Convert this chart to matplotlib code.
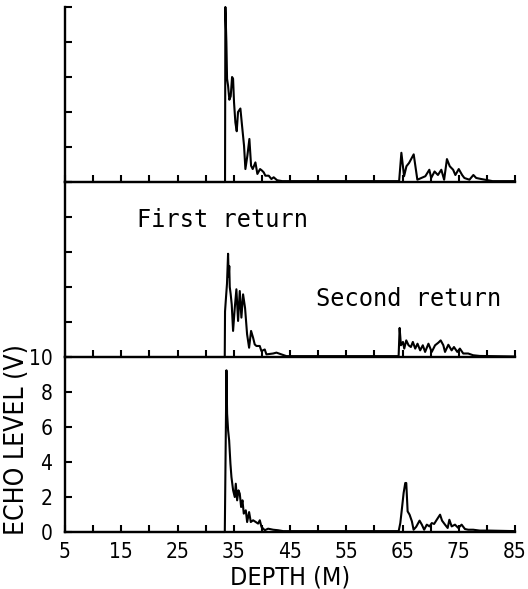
import matplotlib
matplotlib.use("Agg")
import matplotlib.pyplot as plt
from matplotlib import font_manager
import numpy as np

# echo traces: depth (m) and echo level (V), one pair per panel
depth_top = [5, 33.45, 33.51, 33.69, 33.81, 33.99, 34.22, 34.46, 34.70, 34.88, 35.05, 35.29,
             35.53, 35.76, 36.18, 36.48, 36.83, 37.07, 37.42, 37.78, 38.08, 38.37, 38.85,
             39.2, 39.68, 40.03, 40.33, 40.62, 41.22, 41.69, 42.1, 42.7, 43.6,
             64.4, 64.8, 65.28, 65.7, 66.17, 66.99, 67.64, 68.35, 69.06, 69.77, 70.1,
             70.7, 71.3, 71.9, 72.4, 72.9, 73.4, 74.0, 74.4, 75.0, 75.6, 76.0, 76.9,
             77.6, 78.1, 79.0, 81, 85]
level_top = [0, 0, 10.0, 8.0, 5.9, 5.5, 4.7, 4.9, 6.0, 5.9, 4.55, 3.4,
             2.9, 4.0, 4.2, 3.2, 2.07, 0.74, 1.5, 2.46, 0.93, 0.74, 1.12,
             0.46, 0.74, 0.65, 0.55, 0.36, 0.36, 0.17, 0.27, 0.1, 0.05,
             0.05, 1.67, 0.33, 0.9, 1.09, 1.58, 0.13, 0.23, 0.33, 0.7, 0.23,
             0.6, 0.4, 0.7, 0.13, 1.31, 0.9, 0.7, 0.4, 0.74, 0.4, 0.23, 0.13,
             0.4, 0.23, 0.17, 0.05, 0.05]

depth_mid = [5, 33.4, 33.45, 33.6, 33.8, 33.99, 34.1, 34.2, 34.29, 34.45, 34.64, 34.88,
             35.18, 35.47, 35.77, 36.07, 36.36, 36.66, 37.01, 37.37, 37.73, 38.08,
             38.44, 38.73, 39.03, 39.62, 39.92, 40.51, 40.81, 42.0, 42.59, 43.47, 44.36,
             64.31, 64.49, 64.72, 65.08, 65.31, 65.67, 66.08, 66.49, 66.84, 67.26,
             67.67, 68.14, 68.61, 69.02, 69.61, 70.2, 70.79, 71.38, 71.79, 72.26,
             72.56, 73.15, 73.73, 74.15, 74.74, 75.2, 75.8, 76.68, 77.56, 78.74, 85]
level_mid = [0, 0, 2.6, 3.3, 4.2, 5.9, 4.6, 5.2, 4.0, 3.6, 3.0, 1.49,
             2.8, 3.87, 2.06, 3.77, 2.25, 3.58, 2.8, 1.3, 0.53, 1.49,
             1.1, 0.72, 0.63, 0.63, 0.34, 0.43, 0.15, 0.2, 0.25, 0.15, 0.05,
             0.05, 1.66, 0.67, 0.86, 0.48, 0.95, 0.67, 0.57, 0.86, 0.48,
             0.76, 0.38, 0.67, 0.29, 0.76, 0.29, 0.67, 0.82, 0.95, 0.67,
             0.29, 0.7, 0.38, 0.57, 0.29, 0.48, 0.2, 0.2, 0.1, 0.06, 0.03]

depth_bot = [5, 33.41, 33.7, 33.82, 34.0, 34.18, 34.41, 34.59, 34.89, 35.18, 35.36, 35.6,
             35.84, 36.07, 36.31, 36.55, 36.78, 37.14, 37.38, 37.73, 38.03, 38.44,
             38.92, 39.33, 39.63, 39.93, 40.52, 41.11, 42.0, 42.89, 43.78,
             64.32, 64.61, 64.91, 65.2, 65.49, 65.67, 65.91, 66.26, 66.67, 66.97,
             67.44, 68.03, 68.44, 68.85, 69.32, 69.79, 70.21, 70.62, 71.09, 71.68,
             72.03, 72.56, 73.03, 73.33, 73.74, 74.33, 74.92, 75.51, 76.1, 76.68,
             77.57, 78.75, 80.5, 85]
level_bot = [0, 0, 9.24, 6.76, 5.8, 5.24, 3.9, 3.14, 2.38, 2.0, 2.76, 1.81,
             2.38, 2.19, 1.43, 1.81, 1.05, 1.24, 0.57, 1.14, 0.57, 0.67,
             0.57, 0.48, 0.67, 0.29, 0.1, 0.19, 0.13, 0.1, 0.05,
             0.05, 0.51, 1.37, 2.23, 2.8, 2.8, 1.18, 0.99, 0.61, 0.13,
             0.3, 0.65, 0.42, 0.13, 0.42, 0.32, 0.51, 0.46, 0.7, 0.99,
             0.65, 0.42, 0.23, 0.7, 0.32, 0.42, 0.23, 0.42, 0.17, 0.13,
             0.13, 0.08, 0.08, 0.05]

depth_labels = [5, 15, 25, 35, 45, 55, 65, 75, 85]
level_ticks = [0, 2, 4, 6, 8, 10]

# narrow lettering like the old plotter font, if anything narrow is around
fonts = font_manager.fontManager.ttflist
names = {f.name for f in fonts}
stretch = 'normal'
if 'Liberation Sans Narrow' in names:
    fam = 'Liberation Sans Narrow'
elif any(f.name == 'DejaVu Sans' and f.stretch == 'condensed' for f in fonts):
    fam, stretch = 'DejaVu Sans', 'condensed'
elif 'Roboto Condensed' in names:
    fam = 'Roboto Condensed'
else:
    fam = 'Roboto'
plt.rcParams['font.family'] = [fam, 'DejaVu Sans']
plt.rcParams['font.stretch'] = stretch

fig = plt.figure(figsize=(5.28, 5.89), dpi=100)
left, width = 65 / 528, 450 / 528
h = 175 / 589
bottoms = [57 / 589, 57 / 589 + h, 57 / 589 + 2 * h]
traces = [(depth_bot, level_bot), (depth_mid, level_mid), (depth_top, level_top)]

for i, (b, (dx, lv)) in enumerate(zip(bottoms, traces)):
    ax = fig.add_axes([left, b, width, h])
    ax.plot(dx, lv, color='black', lw=1.5, clip_on=False)
    ax.set_xlim(5, 85)
    ax.set_ylim(0, 10)
    for s in ['top', 'right']:
        ax.spines[s].set_visible(False)
    for s in ['left', 'bottom']:
        ax.spines[s].set_linewidth(1.7)
    ax.set_xticks(depth_labels)
    ax.set_xticks(np.arange(10, 85, 10), minor=True)
    ax.set_yticks(level_ticks)
    ax.tick_params(which='both', direction='in', length=5, width=1.5)
    ax.tick_params(axis='x', labelsize=15, pad=7)
    ax.tick_params(axis='y', labelsize=15, pad=9)
    if i == 0:
        ax.set_xlabel('DEPTH (M)', fontsize=18, labelpad=3)
        ax.set_ylabel('ECHO LEVEL (V)', fontsize=19)
        ax.yaxis.set_label_coords(-0.078, 0.53)
    else:
        ax.set_xticklabels([])
        ax.set_yticklabels([])
        ax.patch.set_visible(False)

fig.text(137 / 528, (589 - 227) / 589, 'First return', family='DejaVu Sans Mono',
         fontsize=17, va='baseline', ha='left')
fig.text(316 / 528, (589 - 306) / 589, 'Second return', family='DejaVu Sans Mono',
         fontsize=17, va='baseline', ha='left')

fig.savefig('out.png', dpi=100)
